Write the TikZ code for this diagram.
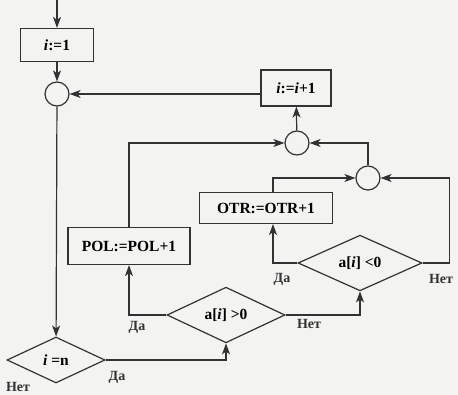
\documentclass[tikz,border=0pt]{standalone}
\usepackage{fontspec}
\setmainfont{Liberation Serif}
\usetikzlibrary{shapes.geometric, arrows.meta, positioning}
\definecolor{inkgray}{RGB}{50,50,50}
\definecolor{paper}{RGB}{243,243,241}

\begin{document}
\begin{tikzpicture}[
				x=1pt, y=-1pt,
				block/.style={rectangle, draw=inkgray, line width=1.2pt, align=center,
					inner sep=2pt, font=\bfseries\fontsize{15.5}{17}\selectfont},
				cond/.style={diamond, draw=inkgray, line width=1.2pt, inner sep=0pt,
					font=\bfseries\fontsize{15.5}{17}\selectfont},
				junc/.style={circle, draw=inkgray, line width=1.2pt, minimum size=24pt, inner sep=0pt},
				arrow/.style={-{Stealth[length=11pt, width=8pt, inset=3pt]}, line width=1.2pt, color=inkgray},
				elabel/.style={font=\bfseries\fontsize{14}{16}\selectfont, color=inkgray, inner sep=0pt}
				]
				\fill[paper] (0,0) rectangle (458,395);
				\useasboundingbox (0,0) rectangle (458,395);

				\coordinate (entry) at (57,0);
				\node[block, minimum width=73pt, minimum height=33pt] (init) at (57,45) {\textit{i}:=1};
				\node[junc] (j1) at (57,94) {};
				\node[block, minimum width=70pt, minimum height=36pt] (inc) at (296,88) {\textit{i}:=\textit{i}+1};
				\node[junc] (j2) at (297,143) {};
				\node[junc] (j3) at (368,178) {};
				\node[block, minimum width=133pt, minimum height=31pt] (otr) at (266,208) {OTR:=OTR+1};
				\node[block, minimum width=122pt, minimum height=37pt] (pol) at (129,246) {POL:=POL+1};
				\node[cond, minimum width=124pt, minimum height=48pt] (neg) at (360,263) {a[\textit{i}] <0};
				\node[cond, minimum width=118pt, minimum height=45pt] (pos) at (226,315) {a[\textit{i}] >0};
				\node[cond, minimum width=98pt, minimum height=46pt] (last) at (56,360) {\textit{i} =n};

				\draw[arrow] (entry) -- (init);
				\draw[arrow] (init) -- (j1);
				\draw[arrow] (j1) -- (last);
				\draw[arrow] (last.east) -| (pos.south);
				\draw[arrow] (pos.west) -| (pol.south);
				\draw[arrow] (pos.east) -| (neg.south);
				\draw[arrow] (neg.west) -| ([xshift=7pt]otr.south);
				\draw[arrow] (neg.east) -- ++(27,0) |- (j3.east);
				\draw[arrow] ([xshift=7pt]otr.north) |- (j3.west);
				\draw[arrow] (pol.north) |- (j2.west);
				\draw[arrow] (j3.north) |- (j2.east);
				\draw[arrow] (j2) -- (inc);
				\draw[arrow] (inc.west |- j1.east) -- (j1.east);

				\node[elabel] (lastno) at (18,387) {Нет};
				\node[elabel] (lastyes) at (117,377) {Да};
				\node[elabel] (posyes) at (137,327) {Да};
				\node[elabel] (posno) at (309,324) {Нет};
				\node[elabel] (negyes) at (282,279) {Да};
				\node[elabel] (negno) at (441,279) {Нет};
			\end{tikzpicture}
\end{document}
